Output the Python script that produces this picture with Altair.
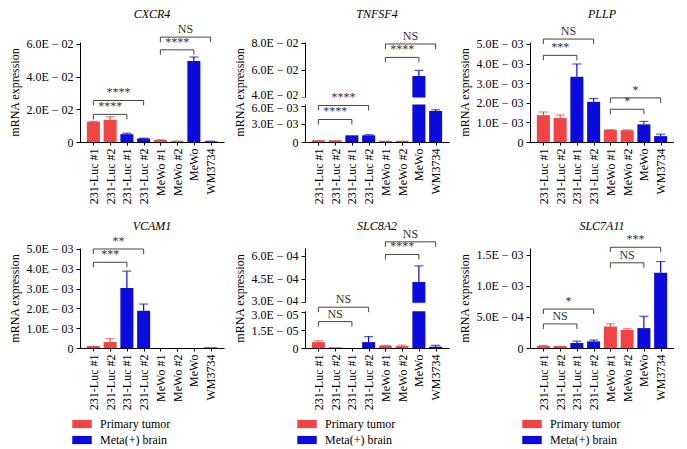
import altair as alt
import pandas as pd

SERIF = "Liberation Serif, Times New Roman, DejaVu Serif, serif"
W, H = 144, 100
FS = 12

LABELS = ["231-Luc #1", "231-Luc #2", "231-Luc #1", "231-Luc #2",
          "MeWo #1", "MeWo #2", "MeWo", "WM3734"]
GROUPS = ["Primary tumor", "Primary tumor", "Meta(+) brain", "Meta(+) brain",
          "Primary tumor", "Primary tumor", "Meta(+) brain", "Meta(+) brain"]
GROUP_NAMES = ["Primary tumor", "Meta(+) brain"]
GROUP_COLORS = ["#F24444", "#0B0BDD"]

GENES = ["CXCR4", "TNFSF4", "PLLP", "VCAM1", "SLC8A2", "SLC7A11"]

cxcr4_mean = [0.0124, 0.0136, 0.0048, 0.0022, 0.0012, 0.0005, 0.0495, 0.0004]
cxcr4_err = [0.0002, 0.0019, 0.0006, 0.0002, 0.0002, 0.0001, 0.0025, 0.0001]
tnfsf4_mean = [0.0003, 0.0003, 0.0011, 0.0011, 0.0002, 0.0002, 0.0553, 0.0051]
tnfsf4_err = [0.0, 0.0, 0.0, 0.0001, 0.0, 0.0, 0.0042, 0.0002]
pllp_mean = [0.00137, 0.00122, 0.00333, 0.00205, 0.00062, 0.00060, 0.00090, 0.00030]
pllp_err = [0.00016, 0.00016, 0.00065, 0.00017, 0.00001, 0.00002, 0.00015, 0.00010]
vcam1_mean = [0.00010, 0.00030, 0.00303, 0.00188, 0.0, 0.0, 0.0, 0.00003]
vcam1_err = [0.0, 0.00017, 0.00085, 0.00034, 0.0, 0.0, 0.0, 0.0]
slc8a2_mean = [4.9e-6, 0.6e-6, 0.0, 4.9e-6, 1.9e-6, 1.6e-6, 4.3e-4, 1.1e-6]
slc8a2_err = [1.1e-6, 0.0, 0.0, 4.6e-6, 0.3e-6, 0.8e-6, 1.05e-4, 1.1e-6]
slc7a11_mean = [3.2e-5, 3.2e-5, 8.0e-5, 1.06e-4, 3.45e-4, 2.9e-4, 3.2e-4, 1.21e-3]
slc7a11_err = [1.0e-5, 0.0, 3.0e-5, 2.1e-5, 4.5e-5, 2.0e-5, 1.9e-4, 1.8e-4]

# brackets: (from index, to index, height, label)
cxcr4_br = [(0, 2, 0.0169, "****"), (0, 3, 0.0254, "****"), (4, 6, 0.0564, "****"), (4, 7, 0.0642, "NS")]
tnfsf4_br = [(0, 2, 0.0037, "****"), (0, 3, 0.0061, "****"), (4, 6, 0.0692, "****"), (4, 7, 0.0792, "NS")]
pllp_br = [(0, 2, 0.00442, "***"), (0, 3, 0.00525, "NS"), (4, 6, 0.00167, "*"), (4, 7, 0.00225, "*")]
vcam1_br = [(0, 2, 0.00433, "***"), (0, 3, 0.0050, "**")]
slc8a2_br = [(0, 2, 2.2e-5, "NS"), (0, 3, 1.6e-4, "NS"), (4, 6, 6.09e-4, "****"), (4, 7, 6.91e-4, "NS")]
slc7a11_br = [(0, 2, 3.87e-4, "NS"), (0, 3, 6.26e-4, "*"), (4, 6, 1.37e-3, "NS"), (4, 7, 1.62e-3, "***")]

cxcr4_ticks = [0, 0.02, 0.04, 0.06]
tnfsf4_ticks = [0, 0.003, 0.006, 0.04, 0.06, 0.08]
pllp_ticks = [0, 0.001, 0.002, 0.003, 0.004, 0.005]
vcam1_ticks = [0, 0.001, 0.002, 0.003, 0.004, 0.005]
slc8a2_ticks = [0, 1.5e-5, 3e-5, 3e-4, 4.5e-4, 6e-4]
slc7a11_ticks = [0, 5e-4, 1e-3, 1.5e-3]

Y_LABEL = ("datum.value == 0 ? '0' : format(datum.value / pow(10, floor(log(datum.value) / LN10 + 1e-6)), '.1f')"
           " + 'E \u2212 0' + toString(-floor(log(datum.value) / LN10 + 1e-6))")
X_LABEL = "[" + ",".join("'%s'" % l for l in LABELS) + "][datum.value]"

color_scale = alt.Scale(domain=GROUP_NAMES, range=GROUP_COLORS)


def panel(gene, means, errs, brackets, ticks, domain, rng=None, gap=None,
          title_y=-28, legend=False):
    df = pd.DataFrame({
        "i": list(range(8)), "label": LABELS, "group": GROUPS,
        "mean": means, "top": [m + e for m, e in zip(means, errs)],
    })
    if rng is not None:
        ys = alt.Scale(domain=domain, range=rng, nice=False, zero=False)
        # nudge the two labels at the axis break apart
        label_offset = {"condition": [
            {"test": "datum.value == %r" % domain[2], "value": -2},
            {"test": "datum.value == %r" % domain[1], "value": 2},
        ], "value": 0}
    else:
        ys = alt.Scale(domain=domain, nice=False, zero=False)
        label_offset = 0
    xs = alt.Scale(domain=[-0.5, 7.5], nice=False, zero=False)
    xaxis = alt.Axis(values=list(range(8)), tickCount=8, labelExpr=X_LABEL, labelAngle=-90,
                     grid=False, title=None, tickSize=3, labelPadding=3, labelOverlap=False,
                     labelFlush=False, labelFont=SERIF, labelFontSize=FS)
    yaxis = alt.Axis(values=ticks, tickCount=len(ticks), labelExpr=Y_LABEL, grid=False,
                     title="mRNA expression", tickSize=4, labelPadding=3, labelOverlap=False,
                     labelFlush=False, titlePadding=4, labelFont=SERIF, titleFont=SERIF,
                     labelFontSize=FS, titleFontSize=FS, titleFontWeight="normal",
                     labelOffset=label_offset)
    if legend:
        leg = alt.Legend(title=None, orient="none", legendX=-8, legendY=166, direction="vertical",
                         symbolType="M-1,-0.42H1V0.42H-1Z", symbolSize=380, symbolStrokeWidth=0,
                         labelFont=SERIF, labelFontSize=FS, labelOffset=8, rowPadding=0)
    else:
        leg = None
    base = alt.Chart(df)
    bars = base.mark_bar(size=13).encode(
        x=alt.X("i:Q", scale=xs, axis=xaxis),
        y=alt.Y("mean:Q", scale=ys, axis=yaxis),
        color=alt.Color("group:N", scale=color_scale, legend=leg),
    )
    err = base.transform_filter("datum.top > datum.mean").mark_rule(strokeWidth=1.2).encode(
        x=alt.X("i:Q", scale=xs, axis=xaxis),
        y=alt.Y("mean:Q", scale=ys, axis=yaxis),
        y2="top:Q",
        color=alt.Color("group:N", scale=color_scale, legend=None),
    )
    cap = base.transform_filter("datum.top > datum.mean").mark_tick(
        orient="horizontal", size=9, thickness=1.2).encode(
        x=alt.X("i:Q", scale=xs, axis=xaxis),
        y=alt.Y("top:Q", scale=ys, axis=yaxis),
        color=alt.Color("group:N", scale=color_scale, legend=None),
    )
    layers = [bars, err, cap]
    if gap is not None:
        gdf = pd.DataFrame({"lo": [gap[0]], "hi": [gap[1]]})
        layers.append(alt.Chart(gdf).mark_rect(color="white").encode(
            x=alt.value(-8), x2=alt.value(W + 4),
            y=alt.Y("lo:Q", scale=ys, axis=yaxis), y2="hi:Q"))
    bdf = pd.DataFrame({
        "a": [b[0] for b in brackets], "b": [b[1] for b in brackets],
        "y": [b[2] for b in brackets], "txt": [b[3] for b in brackets],
    })
    bdf["mid"] = (bdf["a"] + bdf["b"]) / 2
    bc = alt.Chart(bdf)
    bcol = "#444444"
    layers.append(bc.mark_rule(color=bcol, strokeWidth=1).encode(
        x=alt.X("a:Q", scale=xs, axis=xaxis), x2="b:Q", y=alt.Y("y:Q", scale=ys, axis=yaxis)))
    layers.append(bc.mark_rule(color=bcol, strokeWidth=1, y2Offset=5).encode(
        x=alt.X("a:Q", scale=xs, axis=xaxis), y=alt.Y("y:Q", scale=ys, axis=yaxis), y2="y:Q"))
    layers.append(bc.mark_rule(color=bcol, strokeWidth=1, y2Offset=5).encode(
        x=alt.X("b:Q", scale=xs, axis=xaxis), y=alt.Y("y:Q", scale=ys, axis=yaxis), y2="y:Q"))
    layers.append(bc.mark_text(baseline="bottom", dy=-1, font=SERIF, fontSize=FS, color="#333333").encode(
        x=alt.X("mid:Q", scale=xs, axis=xaxis), y=alt.Y("y:Q", scale=ys, axis=yaxis), text="txt:N"))
    tdf = pd.DataFrame({"gene": [gene]})
    layers.append(alt.Chart(tdf).mark_text(font=SERIF, fontStyle="italic", fontSize=FS).encode(
        x=alt.value(W / 2), y=alt.value(title_y), text="gene:N"))
    return alt.layer(*layers).properties(width=W, height=H)


panels = [
    panel(GENES[0], cxcr4_mean, cxcr4_err, cxcr4_br, cxcr4_ticks, [0, 0.0612]),
    panel(GENES[1], tnfsf4_mean, tnfsf4_err, tnfsf4_br, tnfsf4_ticks,
          [0, 0.006, 0.04, 0.0807], rng=[100, 63.5, 54.5, 0], gap=(0.0095, 0.0365)),
    panel(GENES[2], pllp_mean, pllp_err, pllp_br, pllp_ticks, [0, 0.0051]),
    panel(GENES[3], vcam1_mean, vcam1_err, vcam1_br, vcam1_ticks, [0, 0.00505],
          title_y=-22, legend=True),
    panel(GENES[4], slc8a2_mean, slc8a2_err, slc8a2_br, slc8a2_ticks,
          [0, 3e-5, 3e-4, 6.51e-4], rng=[100, 64.0, 54.0, 0], gap=(5.2e-5, 2.78e-4),
          title_y=-22, legend=True),
    panel(GENES[5], slc7a11_mean, slc7a11_err, slc7a11_br, slc7a11_ticks, [0, 1.608e-3],
          title_y=-22, legend=True),
]

chart = alt.concat(*panels, columns=3, spacing={"row": 106, "column": 81},
                   bounds="flush", align="each").resolve_scale(color="independent").properties(
    padding=0, background="white"
).configure(font=SERIF).configure_view(stroke=None).configure_axis(
    labelFont=SERIF, titleFont=SERIF, labelFontSize=FS, titleFontSize=FS,
    titleFontWeight="normal", domainColor="black", tickColor="black",
    labelColor="black", titleColor="black"
).configure_legend(labelFont=SERIF, labelFontSize=FS)

chart.save("out.html", embed_options={"renderer": "svg", "actions": False})
